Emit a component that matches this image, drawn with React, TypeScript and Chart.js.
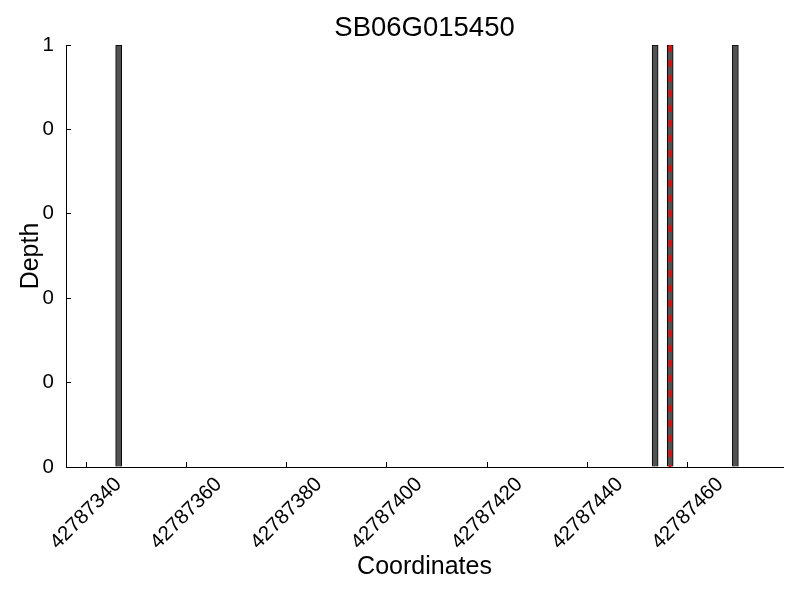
import { useEffect, useRef } from "react";
import { Chart, registerables } from "chart.js";

Chart.register(...registerables);

const chartTitle = "SB06G015450";
const xAxisLabel = "Coordinates";
const yAxisLabel = "Depth";
// bar left edges (bars are edge-aligned, width 1)
const positions = [42787346, 42787453, 42787456, 42787469];
const depths = [1, 1, 1, 1];
const highlightPos = 42787456;
const xTickValues = [42787340, 42787360, 42787380, 42787400, 42787420, 42787440, 42787460];
const yTickValues = [0, 0.2, 0.4, 0.6, 0.8, 1];
const xMin = 42787336;
const xMax = 42787479;

const FONT = "'Liberation Sans', Arial, Helvetica, sans-serif";

const textPlugin = {
  id: "textPlugin",
  afterDraw(chart: any) {
    const ctx = chart.ctx as CanvasRenderingContext2D;
    const { left, right, top, bottom } = chart.chartArea;
    const xs = chart.scales.x;
    ctx.save();
    ctx.fillStyle = "#000";
    ctx.textAlign = "center";
    ctx.textBaseline = "middle";
    ctx.font = `27.5px ${FONT}`;
    ctx.fillText(chartTitle, (left + right) / 2, 28);
    ctx.font = `25px ${FONT}`;
    ctx.fillText(xAxisLabel, (left + right) / 2, 567);
    ctx.save();
    ctx.translate(31, (top + bottom) / 2);
    ctx.rotate(-Math.PI / 2);
    ctx.fillText(yAxisLabel, 0, 0);
    ctx.restore();
    const fs = 20.5;
    ctx.font = `${fs}px ${FONT}`;
    for (const t of xs.ticks) {
      const px = xs.getPixelForValue(t.value);
      const label = String(t.value);
      const w = ctx.measureText(label).width;
      const h = fs * 0.72;
      const ext = (w + h) * Math.SQRT1_2;
      ctx.save();
      ctx.translate(px, bottom + 9 + ext / 2);
      ctx.rotate(-Math.PI / 4);
      ctx.fillText(label, 0, 0);
      ctx.restore();
    }
    ctx.restore();
  },
};

export default function App() {
  const ref = useRef<HTMLCanvasElement | null>(null);
  useEffect(() => {
    document.body.style.margin = "0";
    if (!ref.current) return;
    const chart = new Chart(ref.current, {
      type: "bar",
      data: {
        datasets: [
          {
            type: "line",
            data: [
              { x: highlightPos + 0.5, y: 1 },
              { x: highlightPos + 0.5, y: 0 },
            ],
            borderColor: "#ff0000",
            borderWidth: 2.6,
            borderDash: [7, 8],
            pointRadius: 0,
            order: 0,
          } as any,
          {
            type: "bar",
            data: positions.map((p, i) => ({ x: p + 0.5, y: depths[i] })),
            backgroundColor: "#525252",
            borderColor: "#000000",
            borderWidth: 1,
            barThickness: 6,
            order: 1,
          } as any,
        ],
      },
      options: {
        responsive: false,
        animation: false,
        layout: { padding: { top: 45, right: 17, left: 0, bottom: 0 } },
        plugins: {
          legend: { display: false },
          tooltip: { enabled: false },
          title: { display: false },
        },
        scales: {
          x: {
            type: "linear",
            min: xMin,
            max: xMax,
            offset: false,
            afterBuildTicks: (s: any) => {
              s.ticks = xTickValues.map((v) => ({ value: v }));
            },
            afterFit: (s: any) => {
              s.height = 133;
            },
            ticks: { display: false },
            grid: {
              display: true,
              offset: false,
              drawOnChartArea: false,
              drawTicks: true,
              tickLength: -5,
              tickColor: "#000",
            },
            border: { display: true, color: "#000", width: 1 },
          },
          y: {
            type: "linear",
            min: 0,
            max: 1,
            afterBuildTicks: (s: any) => {
              s.ticks = yTickValues.map((v) => ({ value: v }));
            },
            afterFit: (s: any) => {
              s.width = 66;
            },
            ticks: {
              color: "#000",
              padding: 17,
              font: { family: FONT, size: 20.5 },
              callback: (v: any) => String(Math.floor(Number(v) + 1e-9)),
            },
            grid: {
              display: true,
              drawOnChartArea: false,
              drawTicks: true,
              tickLength: -5,
              tickColor: "#000",
            },
            border: { display: true, color: "#000", width: 1 },
          },
        },
      } as any,
      plugins: [textPlugin],
    });
    return () => chart.destroy();
  }, []);
  return (
    <div style={{ width: 800, height: 600 }}>
      <canvas ref={ref} width={800} height={600} />
    </div>
  );
}
